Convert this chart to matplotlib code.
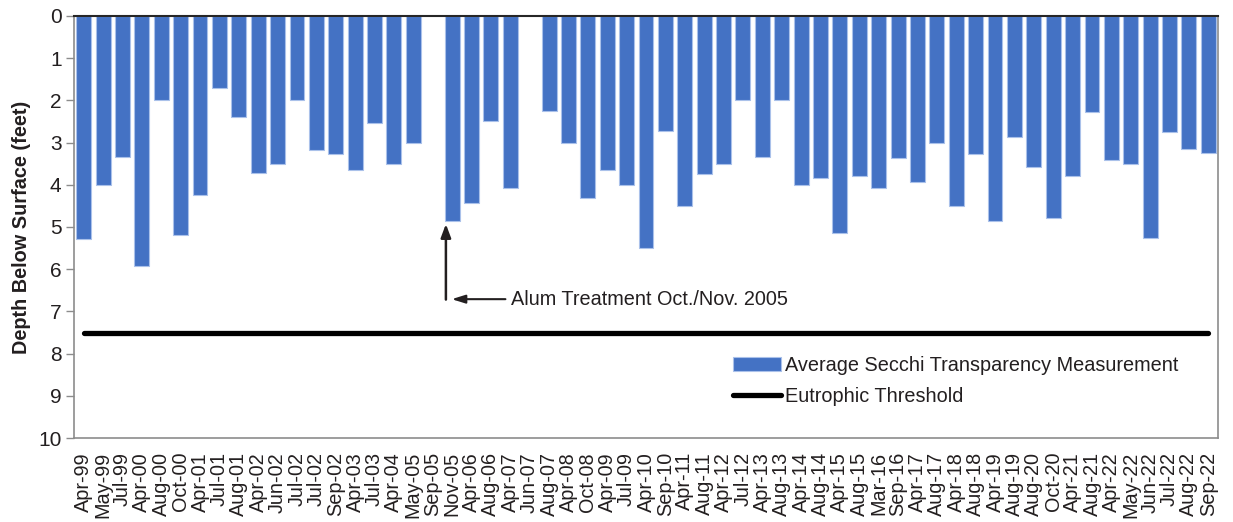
import numpy as np
import matplotlib
matplotlib.use("Agg")
import matplotlib.pyplot as plt

# ======================
# DATA
# ======================
dates = [
    "Apr-99", "May-99", "Jul-99", "Apr-00", "Aug-00", "Oct-00", "Apr-01", "Jul-01",
    "Aug-01", "Apr-02", "Jun-02", "Jul-02", "Jul-02", "Sep-02", "Apr-03", "Jul-03",
    "Apr-04", "May-05", "Sep-05", "Nov-05", "Apr-06", "Aug-06", "Apr-07", "Jun-07",
    "Aug-07", "Apr-08", "Oct-08", "Apr-09", "Jul-09", "Apr-10", "Sep-10", "Apr-11",
    "Aug-11", "Apr-12", "Jul-12", "Apr-13", "Aug-13", "Apr-14", "Aug-14", "Apr-15",
    "Aug-15", "Mar-16", "Sep-16", "Apr-17", "Aug-17", "Apr-18", "Aug-18", "Apr-19",
    "Aug-19", "Aug-20", "Oct-20", "Apr-21", "Aug-21", "Apr-22", "May-22", "Jun-22",
    "Jul-22", "Aug-22", "Sep-22",
]
secchi_depth = [
    5.28, 4.0, 3.33, 5.92, 2.0, 5.2, 4.24, 1.71,
    2.39, 3.71, 3.5, 2.0, 3.17, 3.28, 3.65, 2.54,
    3.5, 3.0, np.nan, 4.85, 4.42, 2.5, 4.07, np.nan,
    2.25, 3.0, 4.32, 3.65, 4.0, 5.5, 2.72, 4.5,
    3.75, 3.5, 2.0, 3.33, 2.0, 4.0, 3.83, 5.14,
    3.78, 4.07, 3.36, 3.93, 3.01, 4.5, 3.28, 4.86,
    2.86, 3.57, 4.79, 3.78, 2.28, 3.42, 3.5, 5.25,
    2.76, 3.15, 3.25,
]
eutrophic_threshold = 7.5
treatment_label = "Alum Treatment Oct./Nov. 2005"

# ======================
# PLOT
# ======================
plt.rcParams["font.family"] = ["Liberation Sans", "DejaVu Sans"]
TXT = "#231f20"
GRAY = "#8c8c8c"
FS = 14.3

fig = plt.figure(figsize=(12.33, 5.22), dpi=100)
ax = fig.add_axes([74 / 1233, 1 - 438 / 522, 1144 / 1233, 422 / 522])

x = np.arange(len(dates))
bars = ax.bar(x, secchi_depth, width=0.77, color="#4472c4", edgecolor="#aac1ea",
              linewidth=0.8, label="Average Secchi Transparency Measurement", zorder=2)
line, = ax.plot([x[0], x[-1]], [eutrophic_threshold] * 2, color="black", lw=3.8,
                solid_capstyle="round", label="Eutrophic Threshold", zorder=3)

ax.set_xlim(-0.5, len(dates) - 0.5)
ax.set_ylim(10, 0)
ax.set_yticks(range(0, 11))
ax.set_xticks(x)
ax.set_xticklabels(dates, rotation=90, fontsize=FS, color=TXT, va="top")
ax.tick_params(axis="x", length=0, pad=10)
ax.tick_params(axis="y", labelsize=15, labelcolor=TXT, color=GRAY,
               length=6, width=1, pad=3)
ax.set_ylabel("Depth Below Surface (feet)", fontsize=FS, fontweight="bold",
              color=TXT, labelpad=5)

for side in ["left", "right", "bottom"]:
    ax.spines[side].set_color(GRAY)
    ax.spines[side].set_linewidth(1.2)
ax.spines["top"].set_color("#262626")
ax.spines["top"].set_linewidth(1.5)

# treatment annotation
ax.annotate("", xy=(18.68, 4.93), xytext=(18.68, 6.72),
            arrowprops=dict(arrowstyle="-|>,head_length=0.8,head_width=0.3",
                            color=TXT, lw=1.8, shrinkA=0, shrinkB=0))
ax.annotate("", xy=(18.98, 6.71), xytext=(21.75, 6.71),
            arrowprops=dict(arrowstyle="-|>,head_length=0.8,head_width=0.25",
                            color=TXT, lw=1.5, shrinkA=0, shrinkB=0))
ax.text(22.05, 6.71, treatment_label, fontsize=FS, color=TXT,
        va="center", ha="left")

leg = ax.legend([bars, line], [bars.get_label(), line.get_label()],
                loc="center left", bbox_to_anchor=(0.569, 0.135), frameon=False,
                fontsize=FS, handlelength=2.4, handletextpad=0.2,
                labelspacing=0.6, borderaxespad=0)
for t in leg.get_texts():
    t.set_color(TXT)

fig.savefig("out.png", dpi=100)
